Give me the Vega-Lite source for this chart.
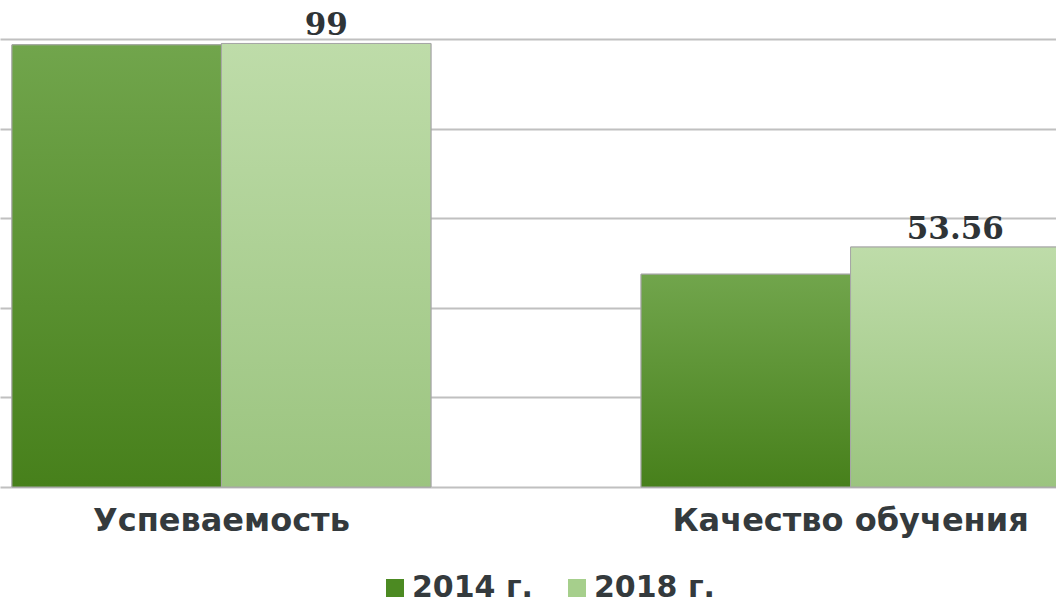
{
  "$schema": "https://vega.github.io/schema/vega-lite/v6.json",
  "width": 1056,
  "height": 448,
  "autosize": {"type": "none"},
  "padding": {"top": 39, "left": 0, "right": 0, "bottom": 118},
  "background": "white",
  "config": {"view": {"stroke": null}},
  "data": {
    "values": [
      {"category": "Успеваемость", "year": "2014 г.", "value": 98.7},
      {"category": "Успеваемость", "year": "2018 г.", "value": 99},
      {"category": "Качество обучения", "year": "2014 г.", "value": 47.5},
      {"category": "Качество обучения", "year": "2018 г.", "value": 53.56}
    ]
  },
  "encoding": {
    "x": {
      "field": "category",
      "type": "nominal",
      "sort": ["Успеваемость", "Качество обучения"],
      "scale": {"range": [0, 1072], "paddingInner": 0.334, "paddingOuter": 0.019},
      "axis": {
        "title": null,
        "labelAngle": 0,
        "domain": false,
        "ticks": false,
        "labelLimit": 0,
        "labelFont": "DejaVu Sans",
        "labelFontWeight": "bold",
        "labelFontSize": 32,
        "labelColor": "#343a3d",
        "labelPadding": 18
      }
    },
    "xOffset": {
      "field": "year",
      "type": "nominal",
      "sort": ["2014 г.", "2018 г."],
      "scale": {"paddingInner": 0, "paddingOuter": 0}
    },
    "y": {
      "field": "value",
      "type": "quantitative",
      "scale": {"domain": [0, 100]},
      "axis": {
        "title": null,
        "labels": false,
        "ticks": false,
        "domain": false,
        "grid": true,
        "gridColor": "#c0c0c0",
        "gridWidth": 2,
        "values": [0, 20, 40, 60, 80, 100]
      }
    }
  },
  "layer": [
    {
      "mark": {"type": "bar", "stroke": "#a6a6a6", "strokeWidth": 1},
      "encoding": {
        "color": {
          "field": "year",
          "type": "nominal",
          "sort": ["2014 г.", "2018 г."],
          "scale": {"range": ["#4c8a22", "#a6cf8c"]},
          "legend": {
            "orient": "none",
            "legendX": 380,
            "legendY": 534,
            "direction": "horizontal",
            "title": null,
            "symbolType": "square",
            "symbolSize": 324,
            "symbolStrokeWidth": 0,
            "labelFont": "DejaVu Sans",
            "labelFontWeight": "bold",
            "labelFontSize": 30,
            "labelLimit": 0,
            "labelColor": "#343a3d",
            "columnPadding": 28,
            "labelOffset": 2
          }
        }
      }
    },
    {
      "mark": {"type": "bar", "stroke": "#a6a6a6", "strokeWidth": 1},
      "encoding": {
        "fill": {
          "condition": {
            "test": "datum.year === '2014 г.'",
            "value": {
              "gradient": "linear",
              "x1": 0, "y1": 0, "x2": 0, "y2": 1,
              "stops": [
                {"offset": 0, "color": "#71a54c"},
                {"offset": 1, "color": "#47801b"}
              ]
            }
          },
          "value": {
            "gradient": "linear",
            "x1": 0, "y1": 0, "x2": 0, "y2": 1,
            "stops": [
              {"offset": 0, "color": "#bedca9"},
              {"offset": 1, "color": "#9bc47f"}
            ]
          }
        }
      }
    },
    {
      "transform": [{"filter": "datum.year === '2018 г.'"}],
      "mark": {
        "type": "text",
        "baseline": "alphabetic",
        "dy": -8,
        "font": "DejaVu Serif",
        "fontWeight": "bold",
        "fontSize": 31,
        "color": "#2f3437"
      },
      "encoding": {"text": {"field": "value", "type": "quantitative"}}
    }
  ]
}
